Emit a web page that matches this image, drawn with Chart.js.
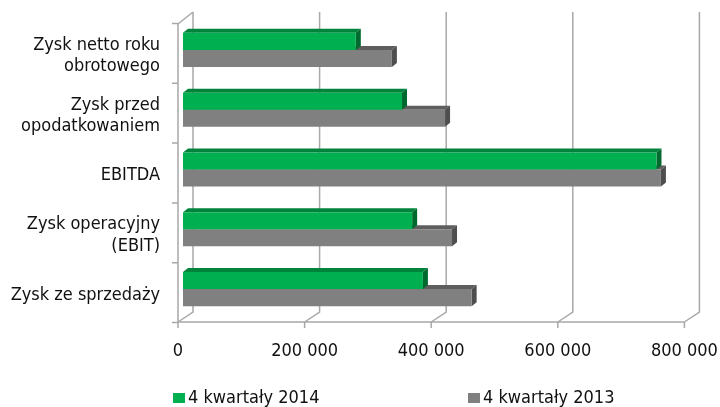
<!DOCTYPE html>
<html><head><meta charset="utf-8">
<script src="https://cdn.jsdelivr.net/npm/chart.js@4/dist/chart.umd.min.js"></script>
<style>html,body{margin:0;padding:0;background:#fff}</style>
</head><body>
<canvas id="c" width="720" height="407"></canvas>
<script>
const categories = [["Zysk netto roku","obrotowego"],["Zysk przed","opodatkowaniem"],"EBITDA",["Zysk operacyjny","(EBIT)"],"Zysk ze sprzedaży"];
const seriesNames = ["4 kwartały 2014","4 kwartały 2013"];
const values2014 = [273000, 346000, 748000, 362000, 379000];
const values2013 = [330000, 414000, 755000, 425000, 456000];
const xTicks = [0, 200000, 400000, 600000, 800000];

const FONT = '"DejaVu Sans Condensed", "DejaVu Sans", sans-serif';
const fmt = v => String(v).replace(/\B(?=(\d{3})+(?!\d))/g, ' ');
const faceColors = [
  {front:'#00B050', top:'#00843C', side:'#006A2E'},
  {front:'#808080', top:'#5E5E5E', side:'#4E4E4E'}
];
const DX = 5, DY = 4;

const frame3d = {
  id:'frame3d',
  beforeDatasetsDraw(chart){
    const {ctx, chartArea:a, scales:{x}} = chart;
    ctx.save();
    ctx.strokeStyle = '#A8A8A8';
    ctx.lineWidth = 1.5;
    const fy = a.bottom + 3;
    xTicks.forEach(v => {
      const p = x.getPixelForValue(v);
      ctx.beginPath();
      ctx.moveTo(p + 10, a.top - 8);
      ctx.lineTo(p + 10, a.bottom - 7);
      ctx.lineTo(p - 5, fy);
      ctx.stroke();
      ctx.beginPath();
      ctx.moveTo(p - 5, fy); ctx.lineTo(p - 5, fy + 6);
      ctx.stroke();
    });
    const x0 = x.getPixelForValue(xTicks[0]) - 5;
    const x1 = x.getPixelForValue(xTicks[xTicks.length-1]) - 5;
    ctx.beginPath();
    ctx.moveTo(x0, fy); ctx.lineTo(x1, fy);
    ctx.moveTo(x0, a.top + 4); ctx.lineTo(x0, fy);
    ctx.moveTo(x0, a.top + 4); ctx.lineTo(x0 + 15, a.top - 8);
    ctx.stroke();
    const n = categories.length;
    ctx.beginPath();
    for (let i = 0; i <= n; i++) {
      const yb = a.top + i * a.height / n + 3.5;
      ctx.moveTo(x0 - 6, yb); ctx.lineTo(x0, yb);
    }
    ctx.stroke();
    [1, 0].forEach(d => {
      const meta = chart.getDatasetMeta(d);
      const c = faceColors[d];
      meta.data.forEach(bar => {
        const {x:bx, y:by, base, height} = bar.getProps(['x','y','base','height'], true);
        const t = by - height/2, b = by + height/2, l = base, r = bx;
        ctx.fillStyle = c.top;
        ctx.beginPath();
        ctx.moveTo(l, t); ctx.lineTo(l + DX, t - DY); ctx.lineTo(r + DX, t - DY); ctx.lineTo(r, t);
        ctx.closePath(); ctx.fill();
        ctx.fillStyle = c.side;
        ctx.beginPath();
        ctx.moveTo(r, t); ctx.lineTo(r + DX, t - DY); ctx.lineTo(r + DX, b - DY); ctx.lineTo(r, b);
        ctx.closePath(); ctx.fill();
      });
    });
    ctx.restore();
  }
};

const legendPlugin = {
  id:'customLegend',
  afterDraw(chart){
    const {ctx} = chart;
    const pos = [{bx:173, tx:188}, {bx:468, tx:483}];
    ctx.save();
    ctx.font = '18px ' + FONT;
    ctx.textBaseline = 'middle';
    ctx.textAlign = 'left';
    chart.data.datasets.forEach((ds, i) => {
      ctx.fillStyle = ds.backgroundColor;
      ctx.fillRect(pos[i].bx, 393, 12, 10);
      ctx.fillStyle = '#111';
      ctx.fillText(ds.label, pos[i].tx, 398);
    });
    ctx.restore();
  }
};

new Chart(document.getElementById('c'), {
  type:'bar',
  data:{
    labels: categories,
    datasets:[
      {label: seriesNames[0], data: values2014, backgroundColor: faceColors[0].front, borderWidth:0},
      {label: seriesNames[1], data: values2013, backgroundColor: faceColors[1].front, borderWidth:0}
    ]
  },
  options:{
    indexAxis:'y',
    responsive:false,
    animation:false,
    devicePixelRatio:1,
    categoryPercentage:0.57,
    barPercentage:1,
    layout:{padding:{top:20, right:30.6, bottom:0, left:0}},
    plugins:{legend:{display:false}, tooltip:{enabled:false}},
    scales:{
      x:{
        min:0, max:800000,
        afterBuildTicks: s => { s.ticks = xTicks.map(v => ({value:v})); },
        afterFit: s => { s.height = 88; s.paddingLeft = 0; s.paddingRight = 0; },
        grid:{display:false, drawTicks:false}, border:{display:false},
        ticks:{font:{family:FONT, size:18}, color:'#111', padding:21.5, labelOffset:-5, maxRotation:0, callback: v => fmt(v)}
      },
      y:{
        afterFit: s => { s.width = 183; s.paddingTop = 0; s.paddingBottom = 0; },
        grid:{display:false, drawTicks:false}, border:{display:false},
        ticks:{font:{family:FONT, size:18, lineHeight:1.17}, color:'#111', padding:23, labelOffset:6}
      }
    }
  },
  plugins:[frame3d, legendPlugin]
});
</script>
</body></html>
